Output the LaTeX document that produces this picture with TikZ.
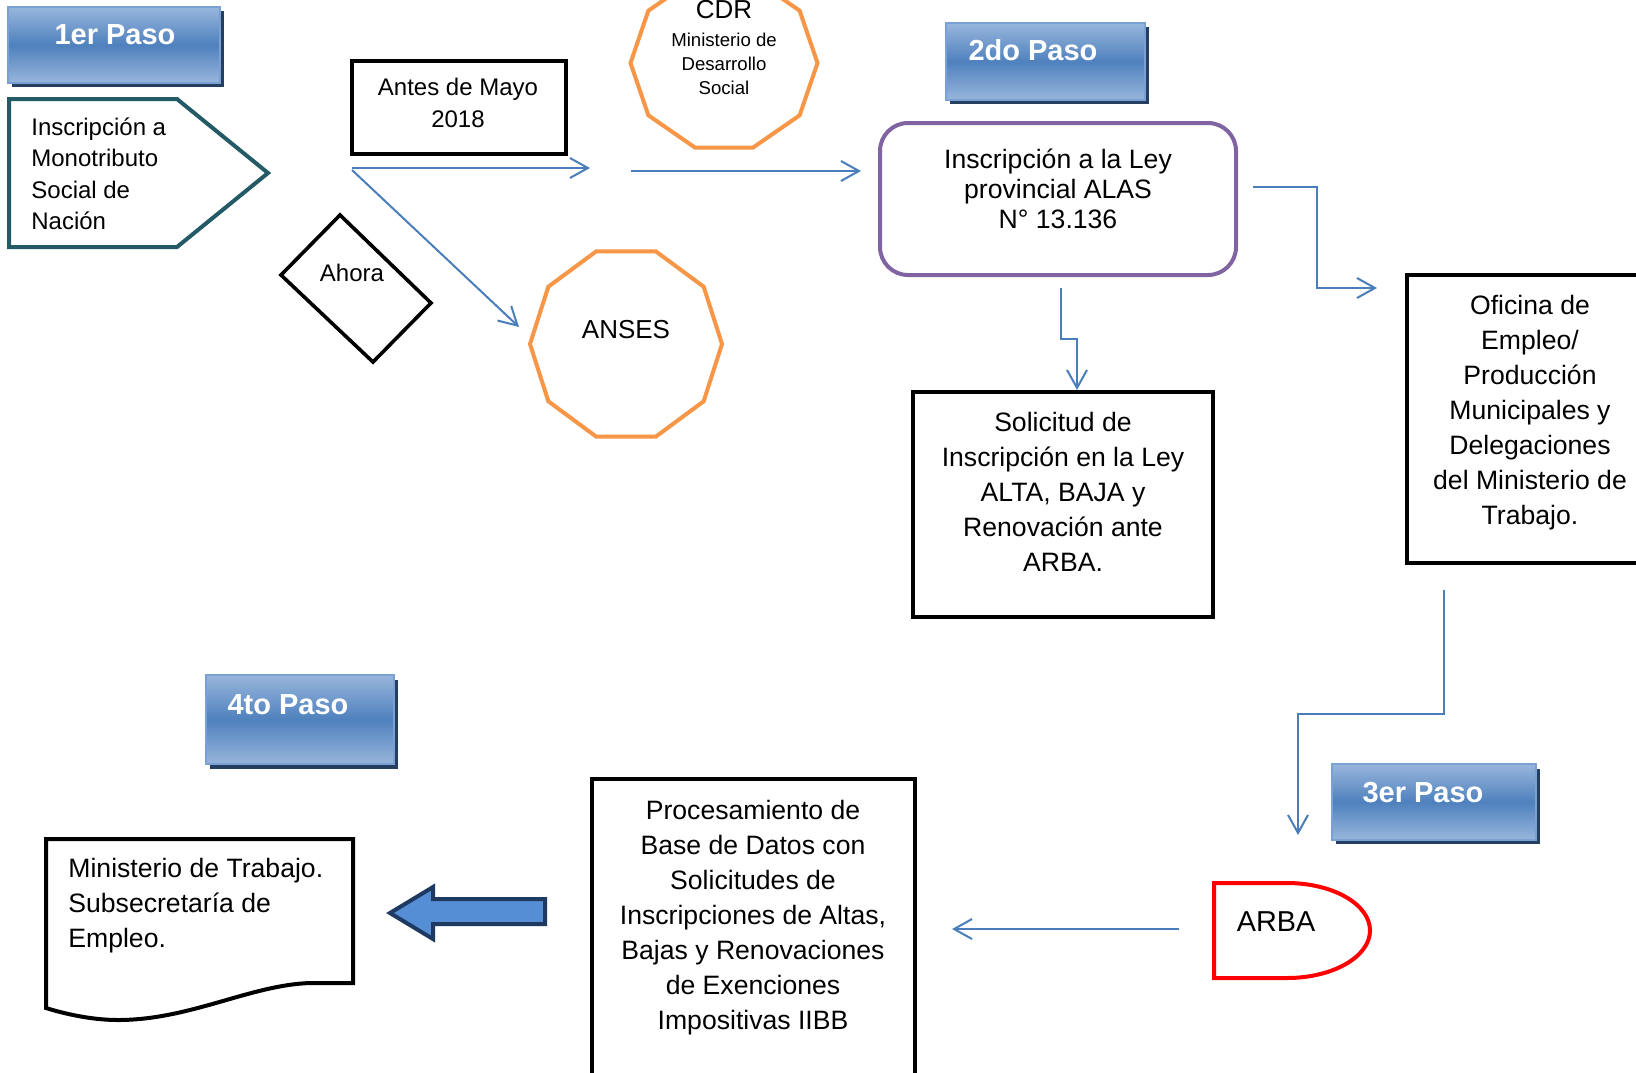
\documentclass[tikz,border=0pt]{standalone}
\usepackage{fontspec}
\setmainfont{Liberation Sans}
\usetikzlibrary{arrows.meta}
\definecolor{connblue}{HTML}{4A7EBB}
\definecolor{orng}{HTML}{F79646}
\definecolor{purp}{HTML}{8064A2}
\definecolor{tealb}{HTML}{235A66}
\definecolor{stepTop}{HTML}{98B6DC}
\definecolor{stepMid}{HTML}{4F81BD}
\definecolor{stepBorder}{HTML}{7BA0D4}
\definecolor{stepShadow}{HTML}{243F60}
\definecolor{blkfill}{HTML}{558ED5}
\definecolor{blkline}{HTML}{1F3A60}
\definecolor{arbared}{HTML}{FF0000}
\begin{document}
\begin{tikzpicture}[x=0.5pt,y=-0.5pt,
  conn/.style={draw=connblue, line width=1pt, -{Straight Barb[length=9pt,width=10pt]}},
  blackbox/.style={draw=black, line width=1.8pt},
  bodytxt/.style={font=\fontsize{13.3}{17.5}\selectfont, align=center, inner sep=0pt},
  midtxt/.style={font=\fontsize{12}{16}\selectfont, align=center, inner sep=0pt},
  smalltxt/.style={font=\fontsize{9.3}{12}\selectfont, align=center, inner sep=0pt},
  steptxt/.style={font=\fontsize{14.5}{17}\selectfont\bfseries, text=white, inner sep=0pt},
  stepbox/.style={top color=stepTop, bottom color=stepTop, middle color=stepMid, draw=stepBorder, line width=1pt},
  stepshadow/.style={fill=stepShadow, draw=none}
]
\useasboundingbox (0,0) rectangle (1636,1072);
\fill[white] (0,0) rectangle (1636,1072);
\clip (0,0) rectangle (1636,1072);

% ---------- step boxes ----------
\fill[stepshadow] (12,11) rectangle (224,87);
\path[stepbox] (8,7) rectangle (220,83);
\node[steptxt] (p1) at (115,35) {1er Paso};

\fill[stepshadow] (950,27) rectangle (1149,104);
\path[stepbox] (946,23) rectangle (1145,100);
\node[steptxt] (p2) at (1033,50) {2do Paso};

\fill[stepshadow] (210,680) rectangle (398,769);
\path[stepbox] (206,675) rectangle (394,764);
\node[steptxt] (p4) at (288,705) {4to Paso};

\fill[stepshadow] (1336,769) rectangle (1540,844);
\path[stepbox] (1332,764) rectangle (1536,840);
\node[steptxt] (p3) at (1423,793) {3er Paso};

% ---------- pentagon ----------
\draw[draw=tealb, line width=2pt, line join=miter]
  (9,99) -- (177,99) -- (268,173) -- (177,247) -- (9,247) -- cycle;
\node[midtxt, align=left, anchor=west, font=\fontsize{12}{15.75}\selectfont] (mono) at (31,174)
  {Inscripción a\\Monotributo\\Social de\\Nación};

% ---------- Antes de Mayo ----------
\draw[blackbox] (352,61) rectangle (566,154);
\node[midtxt] (antes) at (458,103) {Antes de Mayo\\2018};

% ---------- Ahora diamond ----------
\draw[draw=black, line width=1.8pt, line join=miter]
  (340,215) -- (431,303) -- (373,362) -- (281,275) -- cycle;
\node[midtxt] (ahora) at (352,273) {Ahora};

% ---------- CDR decagon ----------
\draw[draw=orng, line width=2pt]
  plot[samples at={0,36,...,324}] ({724+93.5*cos(\x)},{63+89*sin(\x)}) -- cycle;
\node[font=\fontsize{13}{15}\selectfont, inner sep=0pt] (cdr) at (724,10) {CDR};
\node[smalltxt] (mds) at (724,64) {Ministerio de\\Desarrollo\\Social};

% ---------- ANSES decagon ----------
\draw[draw=orng, line width=2pt]
  plot[samples at={0,36,...,324}] ({626+96*cos(\x)},{344+97.5*sin(\x)}) -- cycle;
\node[font=\fontsize{13}{15}\selectfont, inner sep=0pt] (anses) at (626,330) {ANSES};

% ---------- Purple rounded rectangle ----------
\draw[draw=purp, line width=2pt, rounded corners=14pt] (880,123) rectangle (1236,275);
\node[bodytxt, font=\fontsize{13.3}{15}\selectfont] (alas) at (1058,189)
  {Inscripción a la Ley\\provincial ALAS\\N° 13.136};

% ---------- Solicitud box ----------
\draw[blackbox] (913,392) rectangle (1213,617);
\node[bodytxt] (soli) at (1063,492)
  {Solicitud de\\Inscripción en la Ley\\ALTA, BAJA y\\Renovación ante\\ARBA.};

% ---------- Oficina box ----------
\draw[blackbox] (1407,275) rectangle (1650,563);
\node[bodytxt] (ofi) at (1530,412.5)
  {Oficina de\\Empleo/\\Producción\\Municipales y\\Delegaciones\\del Ministerio de\\Trabajo.};

% ---------- ARBA delay shape ----------
\draw[draw=arbared, line width=2pt]
  (1287,883) -- (1214,883) -- (1214,978) -- (1287,978)
  arc[start angle=90, end angle=-90, x radius=83, y radius=47.5];
\node[font=\fontsize{14.4}{17}\selectfont, inner sep=0pt] (arba) at (1276,922) {ARBA};

% ---------- Procesamiento box ----------
\draw[blackbox] (592,779) rectangle (915,1090);
\node[bodytxt] (proc) at (753,918)
  {Procesamiento de\\Base de Datos con\\Solicitudes de\\Inscripciones de Altas,\\Bajas y Renovaciones\\de Exenciones\\Impositivas IIBB};

% ---------- Document shape ----------
\draw[draw=black, line width=2pt, line join=miter]
  (46,839) -- (353,839) -- (353,983) -- (310,983)
  .. controls (250,985) and (190,1020) .. (118,1020)
  .. controls (90,1020) and (62,1013) .. (46,1008) -- cycle;
\node[bodytxt, align=left, anchor=west] (mtrab) at (68,906)
  {Ministerio de Trabajo.\\Subsecretaría de\\Empleo.};

% ---------- Block arrow ----------
\draw[fill=blkfill, draw=blkline, line width=2pt, line join=miter] (390,913) -- (433,887) -- (433,899) -- (545,899)
  -- (545,924) -- (433,924) -- (433,939) -- cycle;

% ---------- connectors ----------
\coordinate (a1s) at (352,168); \coordinate (a1e) at (590,168);
\coordinate (a2s) at (352,170); \coordinate (a2e) at (519,327);
\coordinate (a3s) at (631,171); \coordinate (a3e) at (861,171);
\coordinate (a4s) at (1253,187); \coordinate (a4e) at (1377,288);
\coordinate (a5s) at (1061,288); \coordinate (a5e) at (1077,390);
\coordinate (a6s) at (1444,590); \coordinate (a6e) at (1298,835);
\coordinate (a7s) at (1179,929); \coordinate (a7e) at (952,929);

\draw[conn] (a1s) -- (a1e);
\draw[conn] (a2s) -- (a2e);
\draw[conn] (a3s) -- (a3e);
\draw[conn] (a4s) -- (1317,187) -- (1317,288) -- (a4e);
\draw[conn] (a5s) -- (1061,339) -- (1077,339) -- (a5e);
\draw[conn] (a6s) -- (1444,714) -- (1298,714) -- (a6e);
\draw[conn] (a7s) -- (a7e);
\end{tikzpicture}
\end{document}
